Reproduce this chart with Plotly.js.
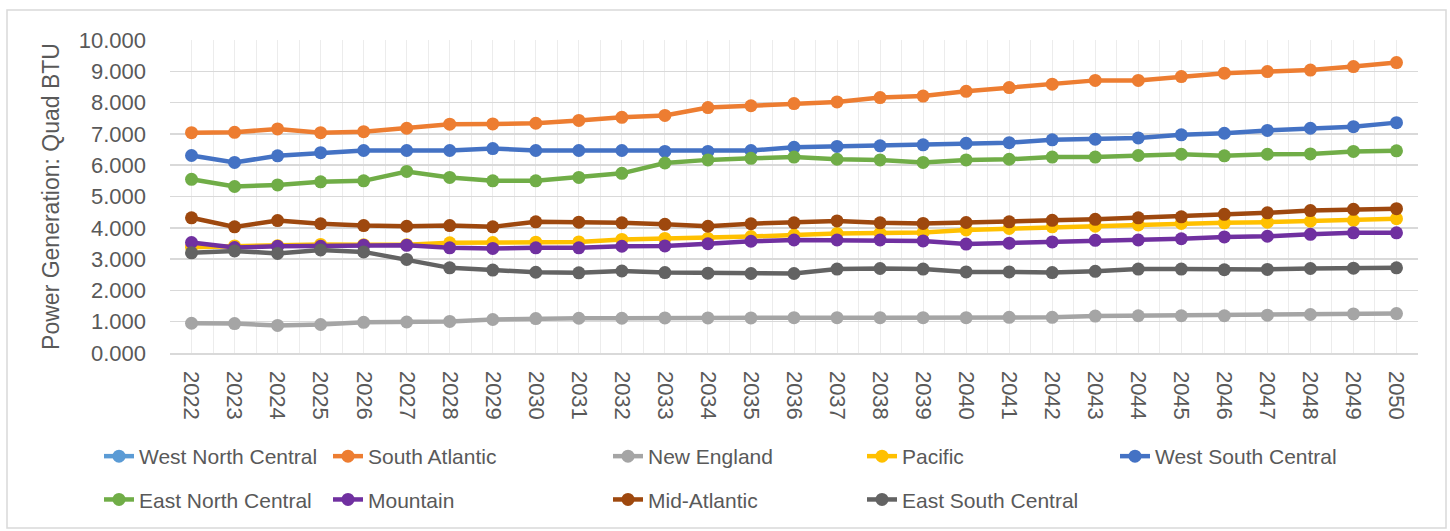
<!DOCTYPE html>
<html>
<head>
<meta charset="utf-8">
<script src="https://cdn.plot.ly/plotly-3.0.1.min.js"></script>
<style>
  html, body { margin: 0; padding: 0; background: #ffffff; }
  #chart { width: 1450px; height: 531px; }
</style>
</head>
<body>
<div id="chart"></div>
<script>
const years = [2022, 2023, 2024, 2025, 2026, 2027, 2028, 2029, 2030, 2031,
               2032, 2033, 2034, 2035, 2036, 2037, 2038, 2039, 2040, 2041,
               2042, 2043, 2044, 2045, 2046, 2047, 2048, 2049, 2050];

const westNorthCentral = [null, null, null, null, null, null, null, null, null, null,
                          null, null, null, null, null, null, null, null, null, null,
                          null, null, null, null, null, null, null, null, null];
const southAtlantic = [7.04, 7.05, 7.16, 7.04, 7.07, 7.18, 7.31, 7.32, 7.34, 7.43,
                       7.53, 7.59, 7.84, 7.90, 7.97, 8.02, 8.16, 8.21, 8.36, 8.48,
                       8.59, 8.71, 8.71, 8.83, 8.94, 8.99, 9.04, 9.15, 9.28];
const newEngland = [0.95, 0.94, 0.88, 0.91, 0.98, 0.99, 1.01, 1.07, 1.10, 1.11,
                    1.11, 1.12, 1.12, 1.12, 1.13, 1.13, 1.13, 1.13, 1.13, 1.14,
                    1.14, 1.18, 1.19, 1.19, 1.19, 1.21, 1.23, 1.25, 1.26];
const pacific = [3.38, 3.42, 3.43, 3.47, 3.46, 3.46, 3.52, 3.53, 3.54, 3.55,
                 3.63, 3.66, 3.66, 3.72, 3.77, 3.82, 3.83, 3.85, 3.93, 3.98,
                 4.03, 4.05, 4.09, 4.14, 4.16, 4.18, 4.21, 4.24, 4.29];
const westSouthCentral = [6.31, 6.09, 6.30, 6.40, 6.47, 6.47, 6.47, 6.53, 6.47, 6.47,
                          6.47, 6.44, 6.44, 6.47, 6.57, 6.60, 6.62, 6.65, 6.70, 6.72,
                          6.81, 6.83, 6.87, 6.97, 7.02, 7.11, 7.18, 7.23, 7.36];
const eastNorthCentral = [5.55, 5.32, 5.37, 5.47, 5.50, 5.80, 5.61, 5.50, 5.50, 5.61,
                          5.74, 6.07, 6.17, 6.22, 6.26, 6.19, 6.17, 6.09, 6.17, 6.19,
                          6.26, 6.26, 6.31, 6.35, 6.30, 6.35, 6.36, 6.44, 6.46];
const mountain = [3.53, 3.37, 3.41, 3.41, 3.44, 3.44, 3.36, 3.34, 3.36, 3.36,
                  3.41, 3.42, 3.49, 3.57, 3.61, 3.61, 3.61, 3.58, 3.48, 3.51,
                  3.55, 3.60, 3.61, 3.65, 3.71, 3.73, 3.79, 3.84, 3.84];
const midAtlantic = [4.32, 4.03, 4.23, 4.13, 4.07, 4.05, 4.07, 4.03, 4.19, 4.18,
                     4.16, 4.11, 4.05, 4.13, 4.16, 4.22, 4.16, 4.14, 4.17, 4.19,
                     4.24, 4.27, 4.32, 4.35, 4.43, 4.48, 4.55, 4.59, 4.61];
const eastSouthCentral = [3.20, 3.26, 3.18, 3.29, 3.23, 2.99, 2.72, 2.65, 2.58, 2.56,
                          2.62, 2.57, 2.55, 2.54, 2.54, 2.68, 2.70, 2.68, 2.59, 2.59,
                          2.57, 2.61, 2.68, 2.68, 2.66, 2.67, 2.70, 2.71, 2.72];

const seriesNames = ["West North Central", "South Atlantic", "New England", "Pacific",
                     "West South Central", "East North Central", "Mountain",
                     "Mid-Atlantic", "East South Central"];
const seriesValues = [westNorthCentral, southAtlantic, newEngland, pacific,
                      westSouthCentral, eastNorthCentral, mountain, midAtlantic,
                      eastSouthCentral];
const seriesColors = ["#5B9BD5", "#ED7D31", "#A5A5A5", "#FFC000", "#4472C4",
                      "#70AD47", "#7030A0", "#9E480E", "#636363"];
const seriesLegend = ["legend", "legend2", "legend3", "legend4", "legend5",
                      "legend", "legend2", "legend3", "legend4"];

const FONT = "'Liberation Sans', Arial, sans-serif";
const TXT = "#595959";

const traces = seriesNames.map((name, i) => ({
  type: "scatter",
  mode: "lines+markers",
  name: name,
  x: years,
  y: seriesValues[i],
  legend: seriesLegend[i],
  legendgroup: "g" + i,
  line: { color: seriesColors[i], width: 4.5 },
  marker: { color: seriesColors[i], size: 13, symbol: "circle" },
  hoverinfo: "skip"
}));

function mkLegend(textStart) {
  return {
    x: (textStart - 40 - 170) / 1248,
    xanchor: "left",
    y: (353 - 436) / 313,
    yanchor: "top",
    orientation: "v",
    traceorder: "grouped",
    tracegroupgap: 13,
    itemwidth: 30,
    bgcolor: "rgba(0,0,0,0)",
    font: { family: FONT, size: 21, color: TXT }
  };
}

const layout = {
  width: 1450,
  height: 531,
  margin: { l: 170, r: 32, t: 40, b: 178, autoexpand: false },
  paper_bgcolor: "#ffffff",
  plot_bgcolor: "#ffffff",
  showlegend: true,
  font: { family: FONT, color: TXT },
  xaxis: {
    type: "linear",
    range: [2021.5, 2050.5],
    tick0: 2022,
    dtick: 1,
    tickangle: 90,
    ticks: "",
    showgrid: true,
    gridcolor: "#ececec",
    gridwidth: 1,
    minor: { tick0: 2021.5, dtick: 1, showgrid: true, gridcolor: "#ececec", gridwidth: 1 },
    showline: true,
    linecolor: "#d9d9d9",
    linewidth: 1.5,
    zeroline: false,
    automargin: false,
    ticklabelstandoff: 12,
    tickfont: { family: FONT, size: 22, color: TXT },
    fixedrange: true
  },
  yaxis: {
    range: [0, 10],
    dtick: 1,
    tickformat: ".3f",
    ticks: "",
    showgrid: true,
    gridcolor: "#d9d9d9",
    gridwidth: 1.5,
    zeroline: false,
    showline: false,
    automargin: false,
    ticklabelstandoff: 23,
    tickfont: { family: FONT, size: 22, color: TXT },
    title: { text: "Power Generation: Quad BTU", standoff: 12,
             font: { family: FONT, size: 23, color: TXT } },
    fixedrange: true
  },
  legend: mkLegend(139),
  legend2: mkLegend(368),
  legend3: mkLegend(648),
  legend4: mkLegend(902),
  legend5: mkLegend(1155),
  shapes: [{
    type: "rect", xref: "paper", yref: "paper",
    x0: (7 - 170) / 1248, x1: (1446 - 170) / 1248,
    y0: (353 - 528) / 313, y1: (353 - 10) / 313,
    line: { color: "#d9d9d9", width: 1.5 },
    fillcolor: "rgba(0,0,0,0)", layer: "below"
  }],
  hovermode: false
};

Plotly.newPlot("chart", traces, layout, { displayModeBar: false, staticPlot: true });
</script>
</body>
</html>
